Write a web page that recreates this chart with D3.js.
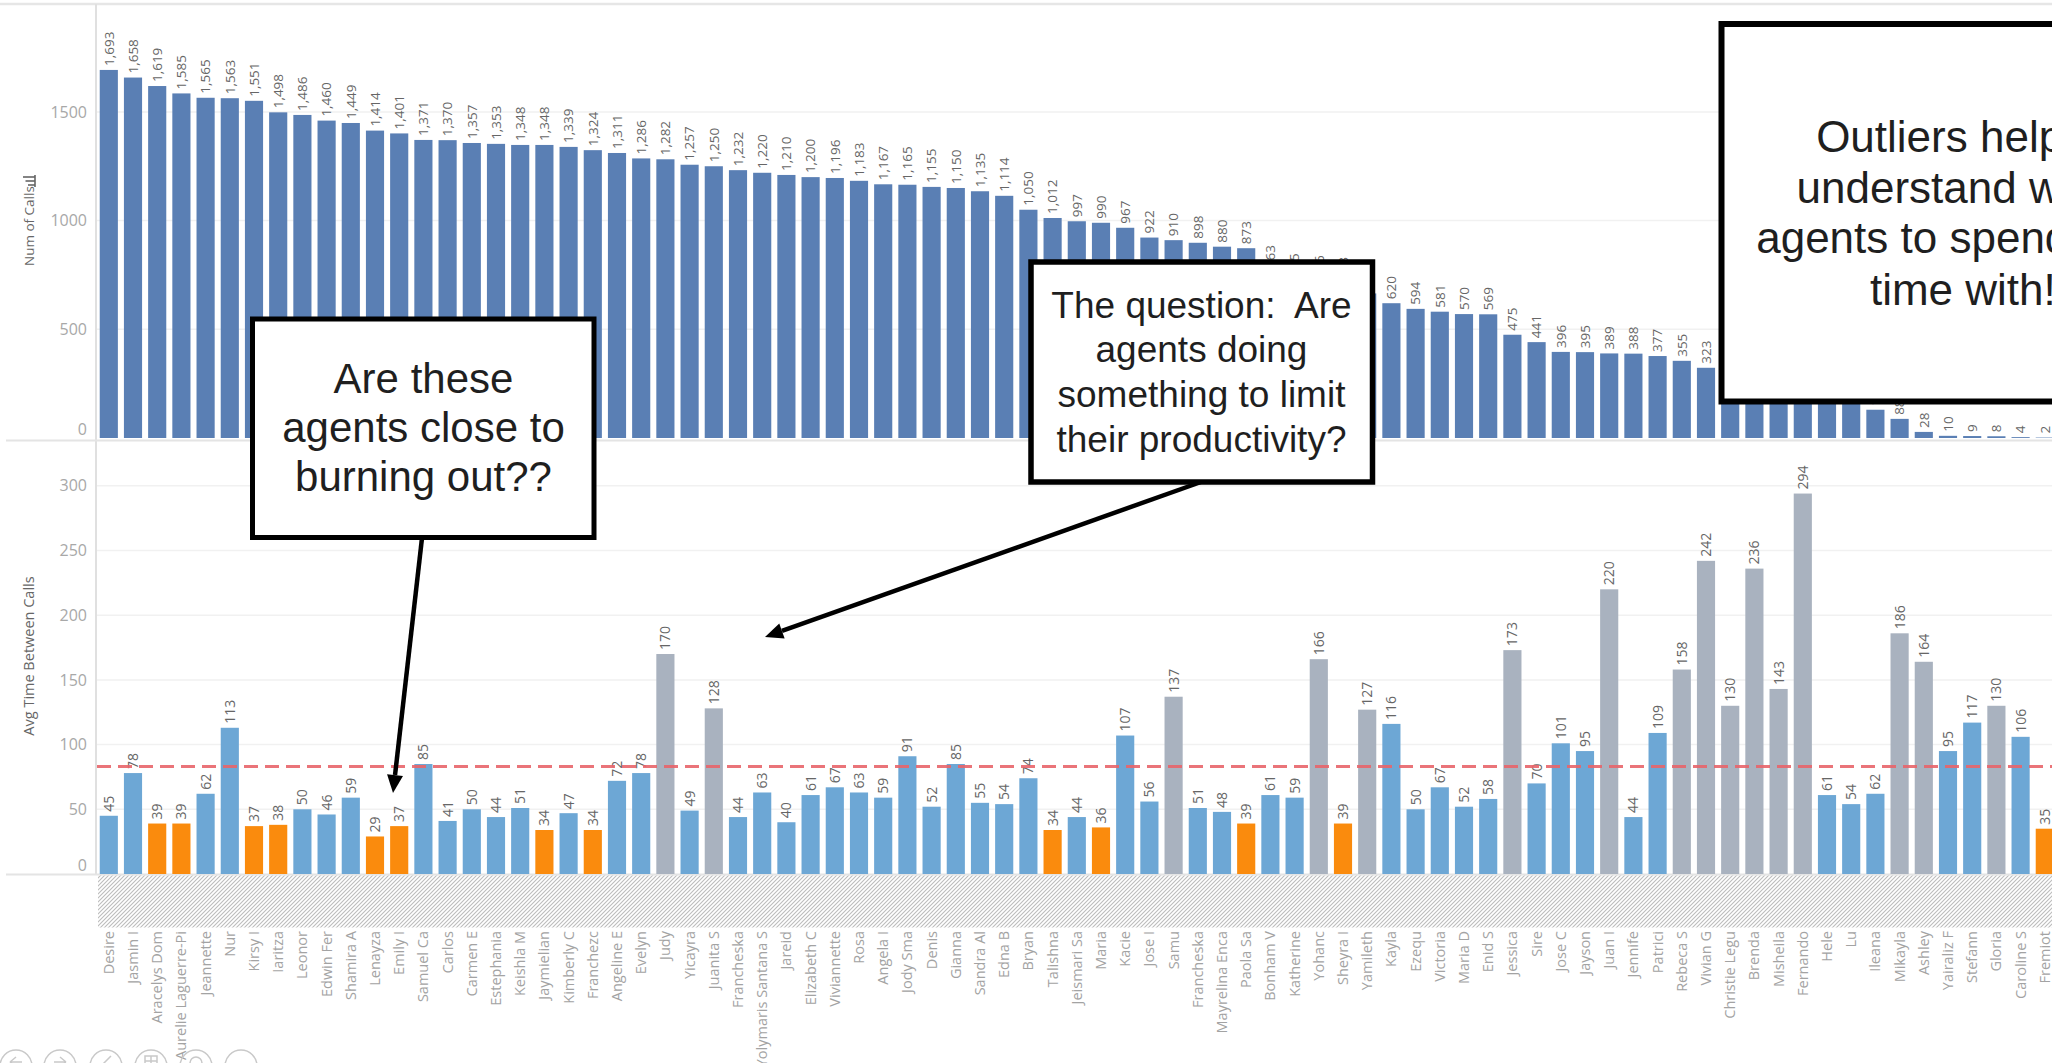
<!DOCTYPE html>
<html>
<head>
<meta charset="utf-8">
<script src="https://cdn.jsdelivr.net/npm/d3@7"></script>
<style>
  html, body { margin: 0; padding: 0; background: #fff; overflow: hidden; }
  svg { display: block; }
  .note { font-family: "Liberation Sans", Arial, sans-serif; fill: #1f1f1f; white-space: pre; }
  .tick text { font-family: "Open Sans", sans-serif; }
</style>
</head>
<body>
<svg id="chart" width="2052" height="1063"></svg>
<script>
// Agents, in descending order of call count
const agents = [
  "Desire", "Jasmin I", "Aracelys Dom", "Aurelie Laguerre-Pi", "Jeannette", "Nur", "Kirsy I", "Iaritza",
  "Leonor", "Edwin Fer", "Shamira A", "Lenayza", "Emily I", "Samuel Ca", "Carlos", "Carmen E",
  "Estephania", "Keishla M", "Jaymielian", "Kimberly C", "Franchezc", "Angeline E", "Evelyn", "Judy",
  "Yicayra", "Juanita S", "Francheska", "Yolymaris Santana S", "Jareid", "Elizabeth C", "Viviannette", "Rosa",
  "Angela I", "Jody Sma", "Denis", "Gianna", "Sandra Al", "Edna B", "Bryan", "Talishna",
  "Jeismari Sa", "Maria", "Kacie", "Jose I", "Samu", "Francheska", "Mayrelina Enca", "Paola Sa",
  "Bonham V", "Katherine", "Yohanc", "Sheyra I", "Yamileth", "Kayla", "Ezequ", "Victoria",
  "Maria D", "Enid S", "Jessica", "Sire", "Jose C", "Jayson", "Juan I", "Jennife",
  "Patrici", "Rebeca S", "Vivian G", "Christie Legu", "Brenda", "Misheila", "Fernando", "Hele",
  "Lu", "Ileana", "Mikayla", "Ashley", "Yairaliz F", "Stefann", "Gloria", "Caroline S", "Fremiot"
];

// Num of Calls per agent
const numCalls = [
  1693, 1658, 1619, 1585, 1565, 1563, 1551, 1498, 1486, 1460, 1449, 1414, 1401, 1371, 1370, 1357,
  1353, 1348, 1348, 1339, 1324, 1311, 1286, 1282, 1257, 1250, 1232, 1220, 1210, 1200, 1196, 1183,
  1167, 1165, 1155, 1150, 1135, 1114, 1050, 1012, 997, 990, 967, 922, 910, 898, 880, 873,
  763, 725, 716, 708, 665, 620, 594, 581, 570, 569, 475, 441, 396, 395, 389, 388, 377, 355, 323,
  305, 281, 262, 238, 214, 187, 130, 88, 28, 10, 9, 8, 4, 2
];

// Avg Time Between Calls per agent
const avgTimeBetween = [
  45, 78, 39, 39, 62, 113, 37, 38, 50, 46, 59, 29, 37, 85, 41, 50,
  44, 51, 34, 47, 34, 72, 78, 170, 49, 128, 44, 63, 40, 61, 67, 63,
  59, 91, 52, 85, 55, 54, 74, 34, 44, 36, 107, 56, 137, 51, 48, 39,
  61, 59, 166, 39, 127, 116, 50, 67, 52, 58, 173, 70, 101, 95, 220, 44,
  109, 158, 242, 130, 236, 143, 294, 61, 54, 62, 186, 164, 95, 117, 130, 106, 35
];

const callTicks = [0, 500, 1000, 1500];
const gapTicks = [0, 50, 100, 150, 200, 250, 300];

// Bands for the gap colouring
const lowGap = 40;
const highGap = 120;

const W = 2052, H = 1063;
const svg = d3.select("#chart");

const colors = { calls: "#5a7fb4", normal: "#6da7d5", low: "#fa8b0d", high: "#a9b2bf" };
const gapColor = v => v < lowGap ? colors.low : (v >= highGap ? colors.high : colors.normal);

const idx = d3.range(agents.length);
const step = 24.2;
const x = d3.scaleBand()
  .domain(idx)
  .range([96.7, 96.7 + agents.length * step])
  .paddingInner(0.25)
  .paddingOuter(0.125);
const cx = i => x(i) + x.bandwidth() / 2;

const yTop = d3.scaleLinear().domain([0, 2000]).range([438, 3.2]);
const yBot = d3.scaleLinear().domain([0, 335]).range([874, 440.5]);

// hatch pattern for the header strip under the bars
const defs = svg.append("defs");
const pat = defs.append("pattern")
  .attr("id", "hatch").attr("patternUnits", "userSpaceOnUse")
  .attr("width", 4).attr("height", 4);
pat.append("path")
  .attr("d", "M-1,1 l2,-2 M0,4 l4,-4 M3,5 l2,-2")
  .attr("stroke", "#bcbcbc").attr("stroke-width", 1.1);

// gridlines
const grid = svg.append("g");
grid.selectAll("line.gt").data(callTicks.filter(d => d > 0)).join("line")
  .attr("x1", 97).attr("x2", W).attr("y1", d => yTop(d)).attr("y2", d => yTop(d))
  .attr("stroke", "#f1f1f1").attr("stroke-width", 1.5);
grid.selectAll("line.gb").data(gapTicks.filter(d => d > 0)).join("line")
  .attr("x1", 97).attr("x2", W).attr("y1", d => yBot(d)).attr("y2", d => yBot(d))
  .attr("stroke", "#f1f1f1").attr("stroke-width", 1.5);

// frame lines
svg.append("line").attr("x1", 0).attr("x2", W).attr("y1", 4).attr("y2", 4)
  .attr("stroke", "#e6e6e6").attr("stroke-width", 2.5);
svg.append("line").attr("x1", 96).attr("x2", 96).attr("y1", 4).attr("y2", 874)
  .attr("stroke", "#e0e0e0").attr("stroke-width", 2);
svg.append("line").attr("x1", 6).attr("x2", W).attr("y1", 440.5).attr("y2", 440.5)
  .attr("stroke", "#e4e4e4").attr("stroke-width", 2);
svg.append("line").attr("x1", 6).attr("x2", W).attr("y1", 874.5).attr("y2", 874.5)
  .attr("stroke", "#e4e4e4").attr("stroke-width", 2);

// top panel: Num of Calls
svg.append("g").selectAll("rect").data(idx).join("rect")
  .attr("x", i => x(i)).attr("width", x.bandwidth())
  .attr("y", i => yTop(numCalls[i])).attr("height", i => yTop(0) - yTop(numCalls[i]))
  .attr("fill", colors.calls);

svg.append("g").selectAll("text").data(idx).join("text")
  .attr("transform", i => `translate(${cx(i)},${yTop(numCalls[i]) - 4}) rotate(-90)`)
  .attr("dy", "0.35em")
  .attr("font-family", "Open Sans, sans-serif").attr("font-size", 13.5)
  .attr("fill", "#666")
  .text(i => d3.format(",")(numCalls[i]));

// bottom panel: Avg Time Between Calls
svg.append("g").selectAll("rect").data(idx).join("rect")
  .attr("x", i => x(i)).attr("width", x.bandwidth())
  .attr("y", i => yBot(avgTimeBetween[i])).attr("height", i => yBot(0) - yBot(avgTimeBetween[i]))
  .attr("fill", i => gapColor(avgTimeBetween[i]));

svg.append("g").selectAll("text").data(idx).join("text")
  .attr("transform", i => `translate(${cx(i)},${yBot(avgTimeBetween[i]) - 4}) rotate(-90)`)
  .attr("dy", "0.35em")
  .attr("font-family", "Open Sans, sans-serif").attr("font-size", 14)
  .attr("fill", "#666")
  .text(i => avgTimeBetween[i]);

// average reference line
const avgGap = d3.mean(avgTimeBetween);
svg.append("line")
  .attr("x1", 97).attr("x2", W).attr("y1", yBot(avgGap)).attr("y2", yBot(avgGap))
  .attr("stroke", "#e8656b").attr("stroke-width", 3).attr("stroke-dasharray", "14,7")
  .attr("opacity", 0.9);

// header strip and agent names
svg.append("rect").attr("x", 98).attr("y", 875.5).attr("width", W - 98).attr("height", 52)
  .attr("fill", "url(#hatch)");
svg.append("g").selectAll("text").data(idx).join("text")
  .attr("transform", i => `translate(${cx(i)},931) rotate(-90)`)
  .attr("dy", "0.35em").attr("text-anchor", "end")
  .attr("font-family", "Open Sans, sans-serif").attr("font-size", 14.5)
  .attr("fill", "#a3a3a3")
  .text(i => agents[i]);

// value axes
function styleAxis(g) {
  g.select(".domain").remove();
  g.selectAll(".tick text").attr("font-size", 16).attr("fill", "#a8a8a8");
  g.selectAll(".tick").filter(d => d === 0).select("text").attr("dy", "-0.24em");
}
svg.append("g").attr("transform", "translate(87,0)")
  .call(d3.axisLeft(yTop).tickValues(callTicks).tickSize(0).tickPadding(0).tickFormat(d3.format("d")))
  .call(styleAxis);
svg.append("g").attr("transform", "translate(87,0)")
  .call(d3.axisLeft(yBot).tickValues(gapTicks).tickSize(0).tickPadding(0).tickFormat(d3.format("d")))
  .call(styleAxis);

// axis titles
svg.append("text")
  .attr("transform", "translate(29,266) rotate(-90)")
  .attr("dy", "0.35em").attr("text-anchor", "start")
  .attr("font-family", "Open Sans, sans-serif").attr("font-size", 13.5).attr("fill", "#666")
  .text("Num of Calls");
// sort indicator beside the title
const sortIcon = svg.append("g").attr("stroke", "#666").attr("stroke-width", 1.6);
[[23, 35, 177], [25.5, 35, 181], [28, 35, 185]].forEach(([a, b, yy]) =>
  sortIcon.append("line").attr("x1", a).attr("x2", b).attr("y1", yy).attr("y2", yy));
sortIcon.append("line").attr("x1", 35).attr("x2", 35).attr("y1", 175).attr("y2", 187);

svg.append("text")
  .attr("transform", "translate(29,656) rotate(-90)")
  .attr("dy", "0.35em").attr("text-anchor", "middle")
  .attr("font-family", "Open Sans, sans-serif").attr("font-size", 14.5).attr("fill", "#666")
  .text("Avg Time Between Calls");

// callout boxes
function callout(x0, y0, w, h, sw, size, cxText, baselines, lines) {
  const g = svg.append("g");
  g.append("rect").attr("x", x0).attr("y", y0).attr("width", w).attr("height", h)
    .attr("fill", "#fff").attr("stroke", "#000").attr("stroke-width", sw);
  g.selectAll("text").data(lines).join("text")
    .attr("class", "note")
    .attr("x", cxText).attr("y", (d, k) => baselines[k])
    .attr("text-anchor", "middle").attr("font-size", size)
    .text(d => d);
}
function arrow(x1, y1, x2, y2) {
  const ang = Math.atan2(y2 - y1, x2 - x1);
  const len = 18, half = 8;
  const bx = x2 - len * Math.cos(ang), by = y2 - len * Math.sin(ang);
  svg.append("line").attr("x1", x1).attr("y1", y1).attr("x2", bx).attr("y2", by)
    .attr("stroke", "#000").attr("stroke-width", 4.5);
  const px = -Math.sin(ang) * half, py = Math.cos(ang) * half;
  svg.append("polygon")
    .attr("points", `${x2},${y2} ${bx + px},${by + py} ${bx - px},${by - py}`)
    .attr("fill", "#000");
}

arrow(422, 538, 393, 793);
arrow(1201, 482, 765, 637);

callout(252.5, 319, 341.5, 218.5, 5, 42, 423.5, [393, 442, 491],
  ["Are these", "agents close to", "burning out??"]);
callout(1031, 262, 341.5, 220, 5.5, 37, 1201.5, [318, 362, 407, 452],
  ["The question:  Are", "agents doing", "something to limit", "their productivity?"]);
callout(1721.5, 24, 495, 377.5, 6, 44, 1969, [152, 203, 253, 305],
  ["Outliers help us", "understand which", "agents to spend more", "time with!!"]);

// toolbar buttons
const tb = svg.append("g").attr("fill", "none").attr("stroke", "#c9c9c9").attr("stroke-width", 1.5);
[16, 60, 106, 151, 196, 241].forEach(px => tb.append("circle").attr("cx", px).attr("cy", 1066).attr("r", 16));
tb.append("path").attr("d", "M10,1062 l6,-5 M10,1062 l6,5 M10,1062 h12");
tb.append("path").attr("d", "M66,1062 l-6,-5 M66,1062 l-6,5 M66,1062 h-12");
tb.append("path").attr("d", "M101,1066 l10,-10");
tb.append("rect").attr("x", 145).attr("y", 1056).attr("width", 12).attr("height", 12);
tb.append("path").attr("d", "M145,1061 h12 M151,1056 v12");
tb.append("circle").attr("cx", 196).attr("cy", 1063).attr("r", 6);
</script>
</body>
</html>
